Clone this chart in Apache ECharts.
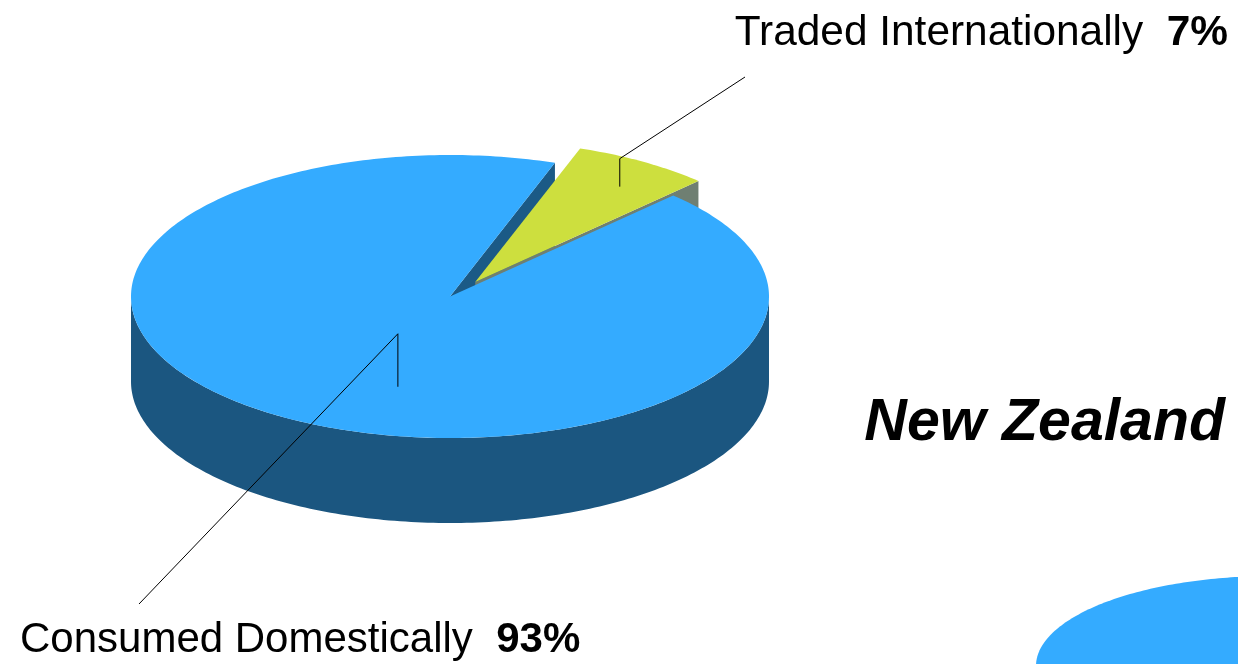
<!DOCTYPE html>
<html>
<head>
<meta charset="utf-8">
<script src="https://cdn.jsdelivr.net/npm/echarts@6/dist/echarts.min.js"></script>
<style>html,body{margin:0;padding:0;background:#fff;}#main{width:1238px;height:664px;}</style>
</head>
<body>
<div id="main"></div>
<script>
// ---- data ----
const categories = ['Consumed Domestically', 'Traded Internationally'];
const shares = [93, 7];
const chartTitle = 'New Zealand';
const nextPanelCategories = ['Next panel'];
const nextPanelShares = [100];

// ---- layout & style ----
const FONT = "'Liberation Sans', Arial, sans-serif";
const mainPie = { cx: 450, cy: 296.5, rx: 319, ry: 141.5, depth: 85, startAngle: 70.8, explode: [[0, 0], [0.15, 0.12]] };
const nextPie = { cx: 1272, cy: 666, rx: 236, ry: 90, depth: 60, startAngle: 90, explode: [[0, 0]] };
const mainColors = { top: ['#34ABFF', '#CDDF3E'], side: ['#1B5680', '#7C8C2C'], radial: ['#1B5A86', '#6F7F72'] };
const nextColors = { top: ['#34ABFF'], side: ['#1B5680'], radial: ['#1B5A86'] };
const mainLabels = [
  { r: 0.31, s0: 53, s1: 0, end: [139, 604], pos: [20, 640], align: 'left', size: 42 },
  { r: 0.86, s0: 8, s1: -20, end: [745, 77], pos: [1228, 33], align: 'right', size: 42.4 }
];

function makePie(cfg, values, colors, labels, names) {
  const total = values.reduce((a, b) => a + b, 0);
  const starts = [];
  let acc = cfg.startAngle;
  values.forEach(v => { starts.push(acc); acc += v / total * 360; });
  const rad = d => d * Math.PI / 180;
  return function (params, api) {
    const i = params.dataIndex;
    const v = api.value(1);
    const a0 = starts[i], a1 = a0 + v / total * 360;
    const mid = rad((a0 + a1) / 2);
    const ex = cfg.explode[i] || [0, 0];
    const ox = cfg.cx + cfg.rx * ex[0] * Math.cos(mid);
    const oy = cfg.cy - cfg.ry * ex[1] * Math.sin(mid);
    const P = (deg, r, h) => [ox + cfg.rx * r * Math.cos(rad(deg)), oy - cfg.ry * r * Math.sin(rad(deg)) + h];
    const arc = (s, t, h) => {
      const n = Math.max(2, Math.ceil(Math.abs(t - s)));
      const pts = [];
      for (let k = 0; k <= n; k++) pts.push(P(s + (t - s) * k / n, 1, h));
      return pts;
    };
    const children = [];
    // visible (front) side walls
    for (let k = -1; k <= 2; k++) {
      const fs = 180 + 360 * k, fe = 360 + 360 * k;
      const s = Math.max(a0, fs), t = Math.min(a1, fe);
      if (t > s) {
        children.push({ type: 'polygon', z2: 1, shape: { points: arc(s, t, 0).concat(arc(t, s, cfg.depth)) },
          style: { fill: colors.side[i] } });
      }
    }
    const full = v / total >= 0.9999;
    const face = a => ({ type: 'polygon', z2: 2,
      shape: { points: [P(a, 0, 0), P(a, 1, 0), P(a, 1, cfg.depth), P(a, 0, cfg.depth)] },
      style: { fill: colors.radial[i] } });
    if (!full) {
      if (Math.cos(rad(a0)) > 0) children.push(face(a0));
      if (Math.cos(rad(a1)) < 0) children.push(face(a1));
    }
    const topPts = full ? arc(a0, a1, 0) : [P(0, 0, 0)].concat(arc(a0, a1, 0));
    children.push({ type: 'polygon', z2: 10, shape: { points: topPts }, style: { fill: colors.top[i] } });
    if (labels && labels[i]) {
      const L = labels[i];
      const anc = P((a0 + a1) / 2, L.r, 0);
      children.push({ type: 'polyline', z2: 20,
        shape: { points: [[anc[0], anc[1] + L.s0], [anc[0], anc[1] + L.s1], L.end] },
        style: { stroke: '#000', lineWidth: 1, fill: null } });
      children.push({ type: 'text', z2: 20,
        style: {
          text: names[i] + '  {b|' + Math.round(v / total * 100) + '%}',
          x: L.pos[0], y: L.pos[1], align: L.align, verticalAlign: 'middle',
          fontSize: L.size, fontFamily: FONT, fill: '#000',
          rich: { b: { fontSize: L.size, fontFamily: FONT, fontWeight: 'bold', fill: '#000' } }
        } });
    }
    return { type: 'group', children: children };
  };
}

const chart = echarts.init(document.getElementById('main'), null, { renderer: 'canvas' });
chart.setOption({
  animation: false,
  backgroundColor: '#fff',
  title: {
    text: chartTitle, right: 13, top: 394, padding: 0,
    textStyle: { fontSize: 59, fontWeight: 'bold', fontStyle: 'italic', fontFamily: FONT, color: '#000', lineHeight: 60 }
  },
  series: [
    {
      type: 'custom', coordinateSystem: 'none', silent: true,
      renderItem: makePie(mainPie, shares, mainColors, mainLabels, categories),
      data: shares.map((v, i) => ({ name: categories[i], value: [i, v] }))
    },
    {
      type: 'custom', coordinateSystem: 'none', silent: true,
      renderItem: makePie(nextPie, nextPanelShares, nextColors, null, nextPanelCategories),
      data: nextPanelShares.map((v, i) => ({ name: nextPanelCategories[i], value: [i, v] }))
    }
  ]
});
</script>
</body>
</html>
